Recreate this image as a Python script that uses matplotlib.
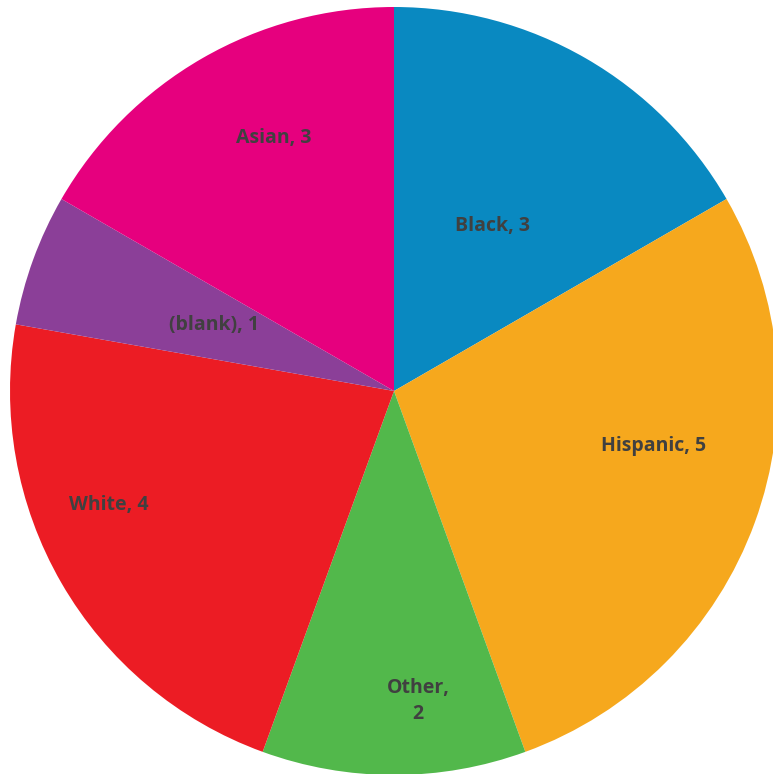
import numpy as np
import matplotlib.pyplot as plt

categories = ["Black", "Hispanic", "Other", "White", "(blank)", "Asian"]
counts = [3, 5, 2, 4, 1, 3]
colors = ["#0989C1", "#F6A81D", "#52B84B", "#EC1C24", "#8B3F98", "#E6007E"]
label_texts = ["Black, 3", "Hispanic, 5", "Other,\n2", "White, 4", "(blank), 1", "Asian, 3"]
# label placement relative to wedge middle (radius fraction, angle shift in degrees)
label_dist = [0.50, 0.69, 0.81, 0.80, 0.50, 0.73]
label_shift = [-0.7, 8.0, 4.4, -8.3, 0.0, -4.7]

fig = plt.figure(figsize=(7.73, 7.74), dpi=100)
ax = fig.add_axes([0, 0, 1, 1])

r_px = 384
cx, cy = 394, 391
wedges, _ = ax.pie(counts, colors=colors, startangle=90, counterclock=False,
                   radius=1, wedgeprops=dict(linewidth=0))

for w, txt, d, s in zip(wedges, label_texts, label_dist, label_shift):
    ang = np.deg2rad((w.theta1 + w.theta2) / 2 + s)
    ax.text(d * np.cos(ang), d * np.sin(ang), txt, ha="center", va="center",
            fontsize=14, fontweight="bold", color="#404040", family="Open Sans",
            linespacing=1.35)

ax.set_xlim(-cx / r_px, (773 - cx) / r_px)
ax.set_ylim(-(774 - cy) / r_px, cy / r_px)
ax.set_aspect("auto")
ax.axis("off")

fig.savefig("out.png", dpi=100)
